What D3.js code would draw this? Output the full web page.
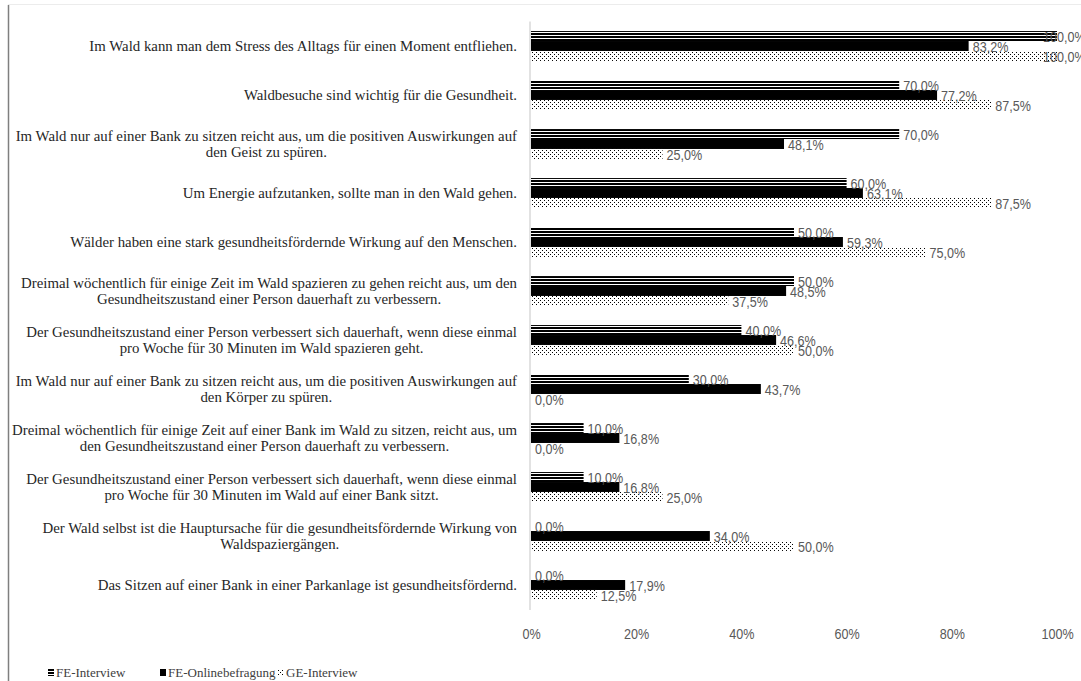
<!DOCTYPE html>
<html>
<head>
<meta charset="utf-8">
<script src="https://cdn.jsdelivr.net/npm/d3@7"></script>
<style>
  html, body { margin: 0; padding: 0; background: #fff; }
  svg { display: block; }
  .serif { font-family: "Liberation Serif", "Times New Roman", "DejaVu Serif", serif; }
  .sans { font-family: "Liberation Sans", Arial, sans-serif; }
</style>
</head>
<body>
<svg id="chart" width="1081" height="681"></svg>
<script>
// Statements (top to bottom), line breaks where the label wraps
const categories = [
  "Im Wald kann man dem Stress des Alltags für einen Moment entfliehen.",
  "Waldbesuche sind wichtig für die Gesundheit.",
  "Im Wald nur auf einer Bank zu sitzen reicht aus, um die positiven Auswirkungen auf\nden Geist zu spüren.",
  "Um Energie aufzutanken, sollte man in den Wald gehen.",
  "Wälder haben eine stark gesundheitsfördernde Wirkung auf den Menschen.",
  "Dreimal wöchentlich für einige Zeit im Wald spazieren zu gehen reicht aus, um den\nGesundheitszustand einer Person dauerhaft zu verbessern.",
  "Der Gesundheitszustand einer Person verbessert sich dauerhaft, wenn diese einmal\npro Woche für 30 Minuten im Wald spazieren geht.",
  "Im Wald nur auf einer Bank zu sitzen reicht aus, um die positiven Auswirkungen auf\nden Körper zu spüren.",
  "Dreimal wöchentlich für einige Zeit auf einer Bank im Wald zu sitzen, reicht aus, um\nden Gesundheitszustand einer Person dauerhaft zu verbessern.",
  "Der Gesundheitszustand einer Person verbessert sich dauerhaft, wenn diese einmal\npro Woche für 30 Minuten im Wald auf einer Bank sitzt.",
  "Der Wald selbst ist die Hauptursache für die gesundheitsfördernde Wirkung von\nWaldspaziergängen.",
  "Das Sitzen auf einer Bank in einer Parkanlage ist gesundheitsfördernd."
];

// Share of agreement per group (%)
const feInterview = [100.0, 70.0, 70.0, 60.0, 50.0, 50.0, 40.0, 30.0, 10.0, 10.0, 0.0, 0.0];
const feOnline    = [83.2, 77.2, 48.1, 63.1, 59.3, 48.5, 46.6, 43.7, 16.8, 16.8, 34.0, 17.9];
const geInterview = [100.0, 87.5, 25.0, 87.5, 75.0, 37.5, 50.0, 0.0, 0.0, 25.0, 50.0, 12.5];

const seriesNames = ["FE-Interview", "FE-Onlinebefragung", "GE-Interview"];
const xTickValues = [0, 20, 40, 60, 80, 100];

const series = [
  { name: seriesNames[0], values: feInterview, fill: "url(#hlines)" },
  { name: seriesNames[1], values: feOnline,    fill: "#000" },
  { name: seriesNames[2], values: geInterview, fill: "url(#dots)" }
];

const svg = d3.select("#chart");

// ---- fill patterns ----
const defs = svg.append("defs");
const hl = defs.append("pattern").attr("id", "hlines")
  .attr("patternUnits", "userSpaceOnUse").attr("width", 4).attr("height", 3);
hl.append("rect").attr("width", 4).attr("height", 3).attr("fill", "#fff");
hl.append("rect").attr("width", 4).attr("height", 2).attr("fill", "#000");

const dt = defs.append("pattern").attr("id", "dots")
  .attr("patternUnits", "userSpaceOnUse").attr("width", 4).attr("height", 4);
dt.append("rect").attr("width", 4).attr("height", 4).attr("fill", "#fff");
dt.append("rect").attr("x", 0).attr("y", 0).attr("width", 1).attr("height", 1).attr("fill", "#000");
dt.append("rect").attr("x", 2).attr("y", 2).attr("width", 1).attr("height", 1).attr("fill", "#000");

// ---- chart frame ----
svg.append("line").attr("x1", 8.5).attr("x2", 8.5).attr("y1", 5).attr("y2", 681)
  .attr("stroke", "#7f7f7f").attr("stroke-width", 1.5);
svg.append("line").attr("x1", 8).attr("x2", 1081).attr("y1", 4.5).attr("y2", 4.5)
  .attr("stroke", "#ececec").attr("stroke-width", 1);

// ---- scales ----
const plot = { left: 531, right: 1057, top: 21.5, bottom: 609.5 };
const x = d3.scaleLinear().domain([0, 100]).range([plot.left, plot.right]);
const y = d3.scaleBand().domain(d3.range(categories.length))
  .range([plot.top, plot.bottom]).paddingInner(0.39).paddingOuter(0.195);
const ySub = d3.scaleBand().domain(d3.range(series.length)).range([0, y.bandwidth()]);

// ---- bars ----
const fmt = v => d3.format(".1f")(v).replace(".", ",") + "%";

series.forEach((s, si) => {
  const g = svg.append("g");
  g.selectAll("rect").data(s.values).join("rect")
    .attr("x", x(0))
    .attr("y", (d, i) => y(i) + ySub(si))
    .attr("width", d => x(d) - x(0))
    .attr("height", ySub.bandwidth())
    .attr("fill", s.fill);
});

// ---- category axis line ----
svg.append("line").attr("x1", 530).attr("x2", 530)
  .attr("y1", plot.top).attr("y2", plot.bottom + 0.5)
  .attr("stroke", "#d9d9d9").attr("stroke-width", 1.5);

// ---- value labels (pulled back inside when they would run past the plot) ----
const labelMaxX = 1043;
series.forEach((s, si) => {
  svg.append("g").attr("class", "sans").selectAll("text").data(s.values).join("text")
    .attr("transform", (d, i) =>
      `translate(${Math.min(x(d) + 4, labelMaxX)},${y(i) + ySub(si) + ySub.bandwidth() / 2 + 1}) scale(0.84,1)`)
    .attr("dominant-baseline", "central")
    .attr("font-size", 15)
    .attr("fill", "#595959")
    .text(d => fmt(d));
});

// ---- x axis tick labels ----
const xAxis = d3.axisBottom(x).tickValues(xTickValues).tickSize(0).tickPadding(0)
  .tickFormat(d => d + "%");
const gx = svg.append("g").attr("transform", `translate(0,628)`).call(xAxis);
gx.select(".domain").remove();
gx.selectAll("text")
  .attr("class", "sans")
  .attr("font-size", 15).attr("fill", "#595959")
  .attr("dy", "0.71em")
  .attr("transform", "scale(0.84,1)");
gx.attr("font-family", null).attr("font-size", null);

// ---- category labels (right aligned block, lines centred) ----
const labelRight = 517;
const lineH = 16.5;
const gl = svg.append("g").attr("class", "serif")
  .attr("font-size", 14).attr("fill", "#262626");

// size the label font so the longest single-line statement spans 428px
const probe = gl.append("text").text(categories[0]);
const labelSize = 14 * 428 / probe.node().getComputedTextLength();
probe.remove();
gl.attr("font-size", labelSize);

categories.forEach((c, i) => {
  const lines = c.split("\n");
  const cy = y(i) + y.bandwidth() / 2;
  const t = gl.append("text").attr("text-anchor", "middle").attr("dominant-baseline", "central");
  const spans = lines.map((ln, k) => t.append("tspan")
    .attr("y", cy + (k - (lines.length - 1) / 2) * lineH)
    .text(ln));
  const widths = spans.map(sp => sp.node().getComputedTextLength());
  const w = Math.max(...widths);
  spans.forEach(sp => sp.attr("x", labelRight - w / 2));
});

// ---- legend ----
const legend = svg.append("g").attr("class", "serif").attr("font-size", 13).attr("fill", "#404040");
const legendX = [48, 160, 278];
series.forEach((s, si) => {
  legend.append("rect").attr("x", legendX[si]).attr("y", 669)
    .attr("width", 6).attr("height", 7).attr("fill", s.fill);
  legend.append("text").attr("x", legendX[si] + 8).attr("y", 677).text(s.name);
});
</script>
</body>
</html>
